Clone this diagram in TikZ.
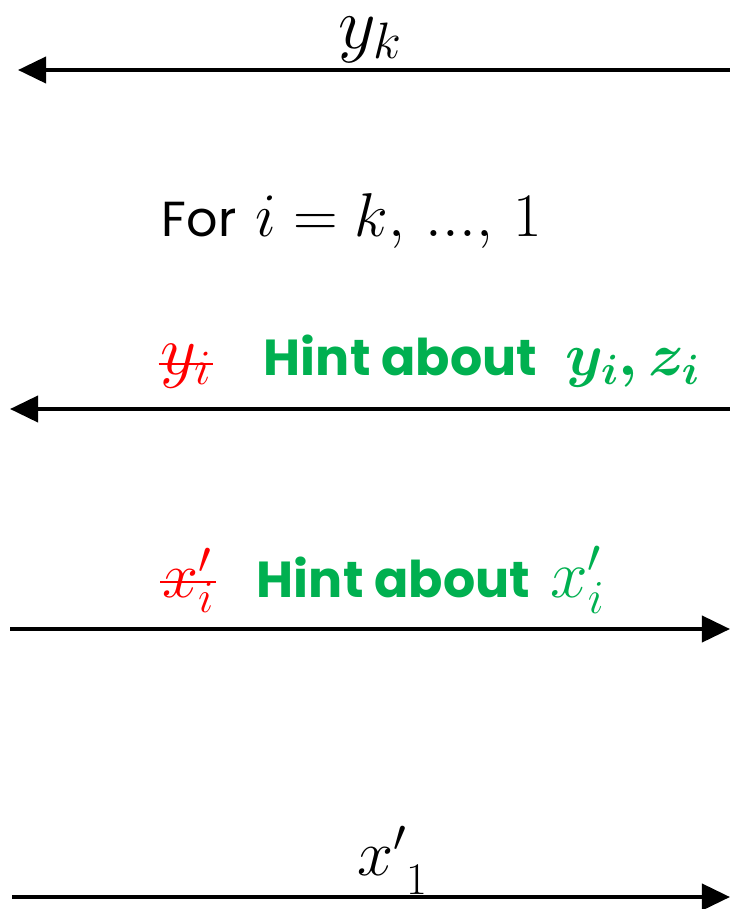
\RequirePackage{fix-cm}
\documentclass[tikz,border=0pt]{standalone}
\usepackage{bm}
\usepackage{fontspec}
\setsansfont{Poppins}
\usetikzlibrary{arrows.meta}
\definecolor{cgreen}{HTML}{00B050}
\definecolor{cred}{HTML}{FF0000}
\tikzset{
  every picture/.style={line width=2.8pt},
  msg/.style={-{Triangle[length=7mm, width=6.5mm]}, draw=black},
  mth/.style={font=\fontsize{#1}{#1}\selectfont, inner sep=0pt, anchor=base},
  mth/.default=44,
  hint/.style={mth=#1, text=cgreen, anchor=base west},
  hint/.default=44,
  struck/.style={mth=#1, text=cred},
  strike/.style={draw=cred, line width=1.6pt},
}
\newcommand{\hintword}[1]{{\fontsize{36}{40}\selectfont\sffamily\bfseries #1}}

\begin{document}
\begin{tikzpicture}[x=0.025cm, y=-0.025cm]
  \useasboundingbox (0,0) rectangle (730,909);
  % message y_k
  \coordinate (m1r) at (730,70); \coordinate (m1l) at (18,70);
  \draw[msg] (m1r) -- (m1l);
  \node[mth=52] (yk) at (370,48) {$y_k$};
  % loop
  \node[mth=44, anchor=base west] (loop) at (160,236) {{\fontsize{35}{40}\selectfont\sffamily For} $i=k,\,{.}{.}{.},\,1$};
  % hint about y_i, z_i
  \coordinate (m2r) at (730,409); \coordinate (m2l) at (10,409);
  \draw[msg] (m2r) -- (m2l);
  \node[struck=50] (y2) at (186,374) {$y_i$};
  \draw[strike] ([yshift=0.25cm]y2.base west) -- ([yshift=0.25cm]y2.base east);
  \node[hint=43] (h2) at (262,375) {\hintword{Hint about}\ \,$\bm{y_i, z_i}$};
  % hint about x'_i
  \coordinate (m3l) at (10,629); \coordinate (m3r) at (730,629);
  \draw[msg] (m3l) -- (m3r);
  \node[struck=46] (x3) at (188,597) {$x'_i$};
  \draw[strike] ([yshift=0.37cm]x3.base west) -- ([yshift=0.37cm]x3.base east);
  \node[hint=48] (h3) at (255,597) {\hintword{Hint about} $x'_i$};
  % message x'_1
  \coordinate (m4l) at (12,897); \coordinate (m4r) at (730,897);
  \draw[msg] (m4l) -- (m4r);
  \node[mth=46] (x1) at (392,875) {$x'\raisebox{-0.3em}{$\scriptstyle 1$}$};
\end{tikzpicture}
\end{document}
